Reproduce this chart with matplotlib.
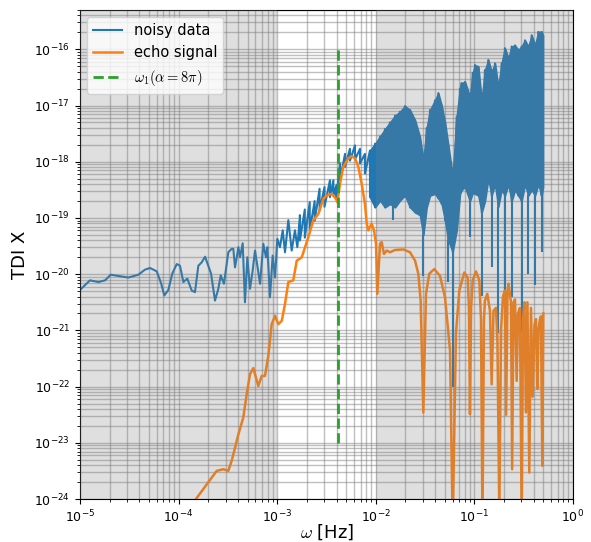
import numpy as np
import matplotlib
matplotlib.use("Agg")
import matplotlib.pyplot as plt

plt.rcParams['mathtext.fontset'] = 'cm'

# noisy data, low-frequency part (log10 of frequency / amplitude)
noisy_logf = [-5.000, -4.899, -4.814, -4.746, -4.689, -4.510, -4.409, -4.341, -4.290, -4.222,
              -4.178, -4.145, -4.104, -4.064, -4.019, -3.986, -3.952, -3.912, -3.867, -3.834,
              -3.800, -3.766, -3.732, -3.705, -3.671, -3.631, -3.597, -3.573, -3.540, -3.496,
              -3.462, -3.445, -3.428, -3.410, -3.394, -3.377, -3.350, -3.327, -3.303, -3.276,
              -3.249, -3.225, -3.202, -3.174, -3.141, -3.114, -3.100, -3.073, -3.046, -3.022,
              -2.999, -2.972, -2.944, -2.921, -2.887, -2.853, -2.820, -2.796, -2.769]
noisy_logy = [-20.28, -20.11, -20.14, -20.11, -20.01, -20.06, -20.01, -19.92, -19.89, -19.95,
              -20.16, -20.38, -20.28, -19.99, -19.82, -19.85, -20.14, -20.08, -20.29, -20.32,
              -19.85, -19.79, -19.69, -19.82, -19.99, -20.47, -20.26, -20.02, -20.17, -19.61,
              -19.55, -19.55, -19.88, -19.70, -19.52, -19.70, -19.45, -20.50, -19.70, -20.26,
              -19.94, -19.58, -19.85, -20.17, -19.46, -19.70, -19.52, -20.41, -19.67, -20.06,
              -19.37, -19.52, -19.22, -19.61, -19.04, -19.58, -19.22, -19.52, -18.99]

# noisy data, dense high-frequency part: upper and lower envelope
band_logf = [-2.77, -2.72, -2.67, -2.62, -2.57, -2.52, -2.465, -2.43, -2.40, -2.363,
             -2.312, -2.262, -2.211, -2.16, -2.11, -2.059, -2.008, -1.957, -1.907, -1.856,
             -1.805, -1.755, -1.704, -1.653, -1.602, -1.552, -1.518, -1.484, -1.45, -1.40,
             -1.366, -1.332, -1.298, -1.265, -1.22, -1.18, -1.146, -1.129, -1.095, -1.045,
             -1.017, -0.994, -0.96, -0.926, -0.893, -0.859, -0.825, -0.791, -0.758, -0.724,
             -0.69, -0.656, -0.622, -0.588, -0.555, -0.521, -0.487, -0.453, -0.419, -0.385,
             -0.352, -0.318, -0.304]
band_hi = [-18.95, -18.85, -18.72, -18.70, -18.48, -18.45, -18.33, -18.33, -18.42, -18.03,
           -17.86, -17.77, -17.71, -17.77, -17.86, -17.80, -17.68, -17.55, -17.42, -17.30,
           -17.18, -17.11, -17.01, -17.08, -17.26, -17.56, -17.97, -17.40, -17.08, -16.91,
           -16.78, -17.00, -17.30, -17.70, -18.25, -17.20, -16.70, -16.60, -16.58, -16.84,
           -16.42, -16.28, -16.31, -16.91, -16.37, -16.19, -16.40, -16.25, -16.67, -16.25,
           -15.98, -16.16, -15.95, -15.93, -16.01, -15.95, -15.84, -15.95, -15.75, -15.93,
           -15.69, -15.69, -15.75]
band_lo = [-19.40, -19.35, -19.22, -19.05, -18.87, -18.80, -18.63, -18.60, -18.63, -18.33,
           -18.09, -17.98, -17.96, -18.03, -18.21, -18.63, -18.81, -18.69, -18.81, -18.75,
           -18.81, -18.69, -18.60, -18.81, -18.90, -18.95, -19.30, -18.81, -18.60, -18.57,
           -18.65, -18.75, -19.04, -19.40, -19.60, -19.22, -18.57, -18.50, -18.45, -18.70,
           -18.55, -18.57, -18.60, -18.90, -18.70, -18.30, -18.60, -18.40, -18.80, -18.50,
           -18.60, -18.40, -18.70, -18.50, -18.60, -18.70, -18.40, -18.60, -18.50, -18.60,
           -18.40, -18.60, -18.45]
# deep downward spikes of the noisy data
spike_logf = [-1.822, -1.518, -1.265, -1.220, -1.045, -0.926, -0.825, -0.758, -0.690,
              -0.622, -0.521, -0.453, -0.385, -0.318]
spike_logy = [-19.04, -20.03, -20.14, -22.00, -19.34, -20.38, -19.88, -21.04, -20.41,
              -20.41, -21.02, -19.99, -20.20, -19.61]

# echo signal
echo_logf = [-3.850, -3.824, -3.715, -3.614, -3.547, -3.496, -3.462, -3.428, -3.394, -3.344,
             -3.309, -3.276, -3.242, -3.192, -3.157, -3.124, -3.090, -3.056, -3.022, -2.989,
             -2.954, -2.921, -2.887, -2.837, -2.802, -2.751, -2.684, -2.634, -2.583, -2.532,
             -2.498, -2.447, -2.404, -2.390, -2.363, -2.330, -2.279, -2.245, -2.211, -2.177,
             -2.143, -2.110, -2.092, -2.076, -2.042, -2.018, -1.998, -1.985, -1.957, -1.940,
             -1.917, -1.889, -1.856, -1.805, -1.721, -1.653, -1.602, -1.569, -1.545, -1.518,
             -1.491, -1.457, -1.407, -1.349, -1.298, -1.247, -1.220, -1.187, -1.153, -1.102,
             -1.068, -1.055, -1.045, -1.033, -1.017, -0.984, -0.950, -0.933, -0.918, -0.903,
             -0.893, -0.869, -0.842, -0.825, -0.806, -0.781, -0.766, -0.747, -0.730, -0.710,
             -0.690, -0.678, -0.664, -0.654, -0.629, -0.617, -0.603, -0.588, -0.571, -0.558,
             -0.538, -0.520, -0.507, -0.492, -0.477, -0.462, -0.443, -0.426, -0.409, -0.390,
             -0.375, -0.362, -0.350, -0.335, -0.325, -0.311, -0.301]
echo_logy = [-24.10, -24.00, -23.74, -23.50, -23.47, -23.50, -23.32, -23.09, -22.85, -22.55,
             -22.13, -21.78, -21.67, -21.99, -21.81, -21.81, -21.45, -20.89, -20.74, -20.89,
             -20.83, -20.53, -20.14, -20.11, -19.76, -19.70, -19.34, -19.04, -18.93, -18.66,
             -18.60, -18.57, -18.66, -18.72, -18.39, -18.09, -17.94, -17.90, -17.94, -18.09,
             -18.39, -18.75, -19.10, -19.22, -19.10, -19.22, -19.46, -20.35, -19.46, -19.43,
             -19.64, -19.58, -19.61, -19.57, -19.56, -19.61, -19.76, -19.99, -20.47, -22.46,
             -20.35, -19.99, -19.91, -20.03, -20.41, -21.36, -24.50, -21.06, -20.29, -19.97,
             -20.06, -20.60, -22.49, -20.60, -20.11, -19.95, -20.11, -20.80, -24.50, -20.80,
             -20.47, -20.35, -20.65, -21.96, -20.65, -20.60, -21.20, -24.30, -21.00, -20.40,
             -20.29, -22.50, -20.30, -20.17, -20.50, -23.47, -20.50, -20.45, -21.90, -20.70,
             -20.60, -24.50, -20.80, -20.50, -22.46, -20.50, -23.53, -20.60, -22.18, -20.90,
             -20.80, -22.04, -21.00, -20.80, -20.75, -23.41, -20.70]

omega1 = 4.1e-3

fig = plt.figure(figsize=(5.91, 5.42), dpi=100)
ax = fig.add_axes([0.1354, 0.0793, 0.8341, 0.9022])

# noisy band drawn as a zigzag between its envelopes
f_band = 10.0 ** np.array(band_logf)
zig_f = np.repeat(f_band, 2)
zig_y = 10.0 ** np.column_stack([band_hi, band_lo]).ravel()
f_all = np.concatenate([10.0 ** np.array(noisy_logf), zig_f])
y_all = np.concatenate([10.0 ** np.array(noisy_logy), zig_y])
ax.plot(f_all, y_all, color='C0', lw=1.5, label='noisy data', zorder=2)
dense = np.array(band_logf) >= -2.07
ax.fill_between(f_band, 10.0 ** np.array(band_lo), 10.0 ** np.array(band_hi),
                where=dense, color='C0', lw=1.2, zorder=2)
ax.vlines(10.0 ** np.array(spike_logf), 10.0 ** np.array(spike_logy),
          10.0 ** np.interp(spike_logf, band_logf, band_lo), color='C0', lw=1.5, zorder=2)

ax.plot(10.0 ** np.array(echo_logf), 10.0 ** np.array(echo_logy), color='C1', lw=1.8,
        label='echo signal', zorder=2.1)

ax.vlines(omega1, 1e-23, 1e-16, color='C2', linestyles='--', lw=2,
          label=r'$\omega_1(\alpha=8\pi)$', zorder=2.2)

ax.axvspan(1e-5, 1e-3, color='gray', alpha=0.25, lw=0, zorder=3)
ax.axvspan(1e-2, 1, color='gray', alpha=0.25, lw=0, zorder=3)

ax.set_xscale('log')
ax.set_yscale('log')
ax.set_xlim(1e-5, 1)
ax.set_ylim(1e-24, 5e-16)
ax.grid(True, which='both', color='gray', alpha=0.5, lw=1)
ax.set_axisbelow(True)
ax.tick_params(labelsize=9)
ax.set_xlabel(r'$\omega$ [Hz]', fontsize=13, labelpad=-2)
ax.set_ylabel('TDI X', fontsize=13)
ax.legend(loc='upper left', fontsize=10.5)

fig.savefig('out.png', dpi=100)
